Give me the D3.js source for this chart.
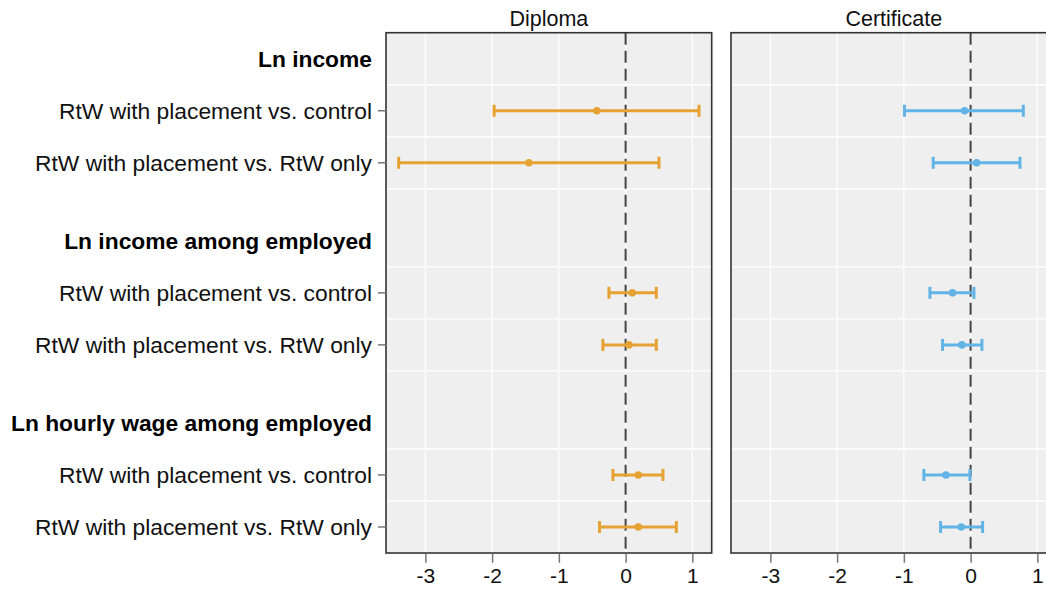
<!DOCTYPE html>
<html><head><meta charset="utf-8">
<script src="https://cdn.jsdelivr.net/npm/d3@7"></script>
<style>
html,body{margin:0;padding:0;background:#fff;}
svg{display:block;font-family:"Liberation Sans",Arial,sans-serif;}
</style></head>
<body>
<svg id="chart" width="1046" height="595"></svg>
<script>
// ---- data ----
const outcomes = ["Ln income", "Ln income among employed", "Ln hourly wage among employed"];
const comparisons = ["RtW with placement vs. control", "RtW with placement vs. RtW only"];
const panels = ["Diploma", "Certificate"];
const panelColors = ["#E6A232", "#62B3E6"];
const xTicks = [-3, -2, -1, 0, 1];
// estimates per outcome x comparison (row order)
const diplomaEst = [-0.43, -1.45, 0.10, 0.05, 0.19, 0.19];
const diplomaLo  = [-1.97, -3.40, -0.25, -0.34, -0.19, -0.39];
const diplomaHi  = [ 1.10,  0.50,  0.46,  0.46,  0.56,  0.76];
const certEst = [-0.09, 0.09, -0.27, -0.13, -0.37, -0.14];
const certLo  = [-0.99, -0.56, -0.61, -0.42, -0.70, -0.45];
const certHi  = [ 0.79,  0.74,  0.05,  0.17, -0.01,  0.18];

// ---- layout ----
const svg = d3.select("#chart");
const pTop = 32.7, pBottom = 553;
const panelW = 325.7, gap = 19.3, left0 = 386;
const xDomain = [-3.59, 1.29];
const y = d3.scaleLinear().domain([-0.5, 9.5]).range([pTop, pBottom]);

// row structure
const headers = outcomes.map((o, g) => ({label: o, pos: g * 3.5}));
const rows = [];
outcomes.forEach((o, g) => comparisons.forEach((c, k) => rows.push({label: c, pos: g * 3.5 + 1 + k})));
const gridPos = [];
headers.forEach(h => gridPos.push(h.pos + 0.5));
rows.forEach(r => gridPos.push(r.pos + 0.5));

const series = [
  {est: diplomaEst, lo: diplomaLo, hi: diplomaHi},
  {est: certEst, lo: certLo, hi: certHi}
];

panels.forEach((p, i) => {
  const x0 = left0 + i * (panelW + gap);
  const x = d3.scaleLinear().domain(xDomain).range([x0, x0 + panelW]);
  const g = svg.append("g");
  g.append("rect").attr("x", x0).attr("y", pTop).attr("width", panelW).attr("height", pBottom - pTop)
    .attr("fill", "#EFEFEF");
  // grid
  g.selectAll(".vg").data(xTicks).join("line")
    .attr("x1", d => x(d)).attr("x2", d => x(d)).attr("y1", pTop).attr("y2", pBottom)
    .attr("stroke", "#fff").attr("stroke-width", 1.2);
  g.selectAll(".hg").data(gridPos).join("line")
    .attr("x1", x0).attr("x2", x0 + panelW).attr("y1", d => y(d)).attr("y2", d => y(d))
    .attr("stroke", "#fff").attr("stroke-width", 1.4);
  // zero line
  g.append("line").attr("x1", x(0)).attr("x2", x(0)).attr("y1", pTop).attr("y2", pBottom)
    .attr("stroke", "#444").attr("stroke-width", 2).attr("stroke-dasharray", "12,6");
  // error bars
  const s = series[i];
  const col = panelColors[i];
  const d = rows.map((r, k) => ({pos: r.pos, est: s.est[k], lo: s.lo[k], hi: s.hi[k]}));
  const eb = g.selectAll(".eb").data(d).join("g");
  eb.append("line").attr("x1", e => x(e.lo)).attr("x2", e => x(e.hi))
    .attr("y1", e => y(e.pos)).attr("y2", e => y(e.pos)).attr("stroke", col).attr("stroke-width", 3);
  eb.append("line").attr("x1", e => x(e.lo)).attr("x2", e => x(e.lo))
    .attr("y1", e => y(e.pos) - 6).attr("y2", e => y(e.pos) + 6).attr("stroke", col).attr("stroke-width", 3);
  eb.append("line").attr("x1", e => x(e.hi)).attr("x2", e => x(e.hi))
    .attr("y1", e => y(e.pos) - 6).attr("y2", e => y(e.pos) + 6).attr("stroke", col).attr("stroke-width", 3);
  eb.append("circle").attr("cx", e => x(e.est)).attr("cy", e => y(e.pos)).attr("r", 3.8).attr("fill", col);
  // border
  g.append("rect").attr("x", x0).attr("y", pTop).attr("width", panelW).attr("height", pBottom - pTop)
    .attr("fill", "none").attr("stroke", "#333").attr("stroke-width", 1.6);
  // x axis
  const ax = g.append("g").attr("transform", `translate(0,${pBottom})`)
    .call(d3.axisBottom(x).tickValues(xTicks).tickSize(9).tickPadding(6).tickFormat(d3.format("d")));
  ax.select(".domain").remove();
  ax.selectAll(".tick line").attr("stroke", "#777").attr("stroke-width", 1.5).attr("transform", "translate(0,0.75)");
  ax.selectAll(".tick text").attr("font-size", 21).attr("fill", "#111")
    .attr("font-family", "'Liberation Sans', Arial, sans-serif").text(v => v < 0 ? "-" + Math.abs(v) : v);
  // title
  g.append("text").attr("x", x0 + panelW / 2).attr("y", 26).attr("text-anchor", "middle")
    .attr("font-size", 21.5).attr("fill", "#111").text(p);
  // y axis on first panel
  if (i === 0) {
    g.selectAll(".yt").data(rows).join("line")
      .attr("x1", x0 - 8).attr("x2", x0).attr("y1", r => y(r.pos)).attr("y2", r => y(r.pos))
      .attr("stroke", "#777").attr("stroke-width", 1.5);
    g.selectAll(".yl").data(rows).join("text")
      .attr("x", x0 - 14).attr("y", r => y(r.pos)).attr("dy", "0.36em").attr("text-anchor", "end")
      .attr("font-size", 22.8).attr("fill", "#111").text(r => r.label);
    g.selectAll(".yh").data(headers).join("text")
      .attr("x", x0 - 14).attr("y", h => y(h.pos)).attr("dy", "0.36em").attr("text-anchor", "end")
      .attr("font-size", 22.8).attr("font-weight", "bold").attr("fill", "#000").text(h => h.label);
  }
});
</script>
</body></html>
